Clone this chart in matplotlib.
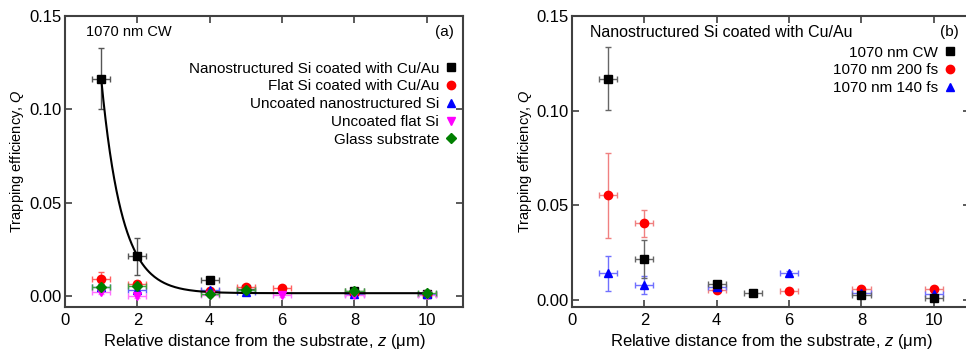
import numpy as np
import matplotlib.pyplot as plt

plt.rcParams['font.family'] = ['Liberation Sans', 'DejaVu Sans']
plt.rcParams['mathtext.fontset'] = 'custom'
plt.rcParams['mathtext.it'] = 'Liberation Sans:italic'

# ---- panel (a): 1070 nm CW, different substrates ----
nano_cu_z = [1, 2, 4, 5, 8, 10]
nano_cu_q = [0.1165, 0.0215, 0.0083, 0.0039, 0.0026, 0.0012]
nano_cu_lo = [0.0165, 0.0105, 0.0015, 0.0008, 0.0008, 0.0008]
nano_cu_hi = [0.0165, 0.0098, 0.0017, 0.0008, 0.0008, 0.0008]

flat_cu_z = [1, 2, 4, 5, 6, 8, 10]
flat_cu_q = [0.0092, 0.0065, 0.0027, 0.0046, 0.0043, 0.0015, 0.0010]
flat_cu_err = [0.0035, 0.0015, 0.0012, 0.0010, 0.0008, 0.0008, 0.0008]

nano_z = [1, 2, 4, 5, 8, 10]
nano_q = [0.0050, 0.0030, 0.0032, 0.0022, 0.0012, 0.0010]
nano_err = [0.0012, 0.0010, 0.0010, 0.0010, 0.0008, 0.0008]

flat_z = [1, 2, 4, 6, 8, 10]
flat_q = [0.0022, 0.0001, 0.0005, 0.0003, 0.0006, 0.0004]
flat_err = [0.0012, 0.0010, 0.0008, 0.0008, 0.0008, 0.0008]

glass_z = [1, 2, 4, 5, 8, 10]
glass_q = [0.0050, 0.0053, 0.0012, 0.0030, 0.0028, 0.0015]
glass_err = [0.0012, 0.0012, 0.0008, 0.0010, 0.0008, 0.0008]

# exponential fit drawn through the CW data: Q = A*exp(-(z-1)/t) + Q0
fit_A, fit_t, fit_Q0 = 0.115, 0.572, 0.0015

# ---- panel (b): nanostructured Si coated with Cu/Au, different lasers ----
cw_z = [1, 2, 4, 5, 8, 10]
cw_q = [0.1169, 0.0217, 0.0083, 0.0039, 0.0026, 0.0012]
cw_lo = [0.0164, 0.0100, 0.0017, 0.0008, 0.0008, 0.0008]
cw_hi = [0.0166, 0.0100, 0.0017, 0.0008, 0.0008, 0.0008]

fs200_z = [1, 2, 4, 6, 8, 10]
fs200_q = [0.0554, 0.0407, 0.0053, 0.0048, 0.0058, 0.0058]
fs200_lo = [0.0224, 0.0072, 0.0010, 0.0008, 0.0008, 0.0008]
fs200_hi = [0.0224, 0.0071, 0.0010, 0.0008, 0.0008, 0.0008]

fs140_z = [1, 2, 4, 6, 8, 10]
fs140_q = [0.0144, 0.0081, 0.0070, 0.0144, 0.0039, 0.0035]
fs140_lo = [0.0098, 0.0046, 0.0012, 0.0010, 0.0010, 0.0010]
fs140_hi = [0.0089, 0.0046, 0.0012, 0.0010, 0.0010, 0.0010]

z_err = 0.25

fig = plt.figure(figsize=(9.66, 3.52), dpi=100)
ax1 = fig.add_axes([65 / 966, 45 / 352, 398 / 966, 291 / 352])
ax2 = fig.add_axes([572 / 966, 45 / 352, 398 / 966, 291 / 352])


def points(ax, z, q, yerr, color, marker, label, ecolor, ms=6):
    ax.errorbar(z, q, xerr=z_err, yerr=yerr, fmt='none', ecolor=ecolor,
                elinewidth=1.0, capsize=2.5, capthick=1.0, zorder=2)
    ax.plot(z, q, linestyle='none', marker=marker, color=color, ms=ms,
            label=label, zorder=3)


# panel (a)
zfit = np.linspace(1, 10, 300)
ax1.plot(zfit, fit_A * np.exp(-(zfit - 1) / fit_t) + fit_Q0, color='black', lw=1.5, zorder=2.5)
points(ax1, nano_cu_z, nano_cu_q, [nano_cu_lo, nano_cu_hi], 'black', 's',
       'Nanostructured Si coated with Cu/Au', '#555555')
points(ax1, flat_cu_z, flat_cu_q, flat_cu_err, 'red', 'o',
       'Flat Si coated with Cu/Au', '#ff6060')
points(ax1, nano_z, nano_q, nano_err, 'blue', '^',
       'Uncoated nanostructured Si', '#6060ff')
points(ax1, flat_z, flat_q, flat_err, 'magenta', 'v',
       'Uncoated flat Si', '#ff70ff')
points(ax1, glass_z, glass_q, glass_err, 'green', 'D',
       'Glass substrate', '#40a040', ms=5)

# panel (b)
points(ax2, fs200_z, fs200_q, [fs200_lo, fs200_hi], 'red', 'o',
       '1070 nm 200 fs', '#f08080')
points(ax2, fs140_z, fs140_q, [fs140_lo, fs140_hi], 'blue', '^',
       '1070 nm 140 fs', '#7070ff')
points(ax2, cw_z, cw_q, [cw_lo, cw_hi], 'black', 's',
       '1070 nm CW', '#666666')

spine_c = '#404040'
for ax, ylo in ((ax1, -0.0059), (ax2, -0.0036)):
    ax.set_xlim(0, 11)
    ax.set_ylim(ylo, 0.15)
    ax.set_xticks([0, 2, 4, 6, 8, 10])
    ax.set_yticks([0.0, 0.05, 0.10, 0.15])
    ax.set_yticklabels(['0.00', '0.05', '0.10', '0.15'])
    ax.tick_params(direction='in', top=True, right=True, length=5, width=1.2,
                   color=spine_c, labelsize=12, pad=4)
    ax.tick_params(axis='y', pad=2.5)
    for s in ax.spines.values():
        s.set_linewidth(1.5)
        s.set_color(spine_c)
    ax.set_xlabel('Relative distance from the substrate, $\\mathit{z}$ (μm)', fontsize=12, labelpad=3)
    ax.set_ylabel('Trapping efficiency, $\\mathit{Q}$', fontsize=10.5, labelpad=2)

ax1.text(0.053, 0.945, '1070 nm CW', transform=ax1.transAxes, fontsize=10.5, va='center')
ax1.text(0.977, 0.945, '(a)', transform=ax1.transAxes, fontsize=11, va='center', ha='right')
handles, labels = ax1.get_legend_handles_labels()
ax1.legend(handles, labels, loc='upper right', bbox_to_anchor=(1.005, 0.875), frameon=False,
           markerfirst=False, fontsize=11, handlelength=0.6, handletextpad=0.5,
           labelspacing=0.25, borderaxespad=0.2)

ax2.text(0.045, 0.945, 'Nanostructured Si coated with Cu/Au', transform=ax2.transAxes,
         fontsize=11.5, va='center')
ax2.text(0.972, 0.945, '(b)', transform=ax2.transAxes, fontsize=11, va='center', ha='right')
h2, l2 = ax2.get_legend_handles_labels()
order = [2, 0, 1]
ax2.legend([h2[i] for i in order], [l2[i] for i in order], loc='upper right',
           bbox_to_anchor=(0.985, 0.93), frameon=False, markerfirst=False, fontsize=11,
           handlelength=0.6, handletextpad=0.5, labelspacing=0.25, borderaxespad=0.2)

fig.savefig('out.png', dpi=100)
